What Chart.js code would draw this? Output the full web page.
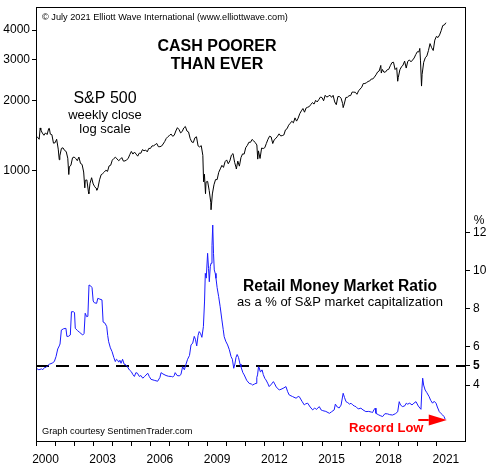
<!DOCTYPE html>
<html>
<head>
<meta charset="utf-8">
<script src="https://cdn.jsdelivr.net/npm/chart.js@4.4.1/dist/chart.umd.min.js"></script>
<style>
  html, body { margin: 0; padding: 0; background: #fff; }
  #wrap { width: 493px; height: 472px; }
</style>
</head>
<body>
<div id="wrap"><canvas id="chart" width="493" height="472"></canvas></div>
<script>
// S&P 500 month-end closes, Jan 2000 .. Jun 2021
const spStartYear = 2000;
const spMonthly = [
  1394, 1366, 1499, 1452, 1421, 1455, 1431, 1518, 1437, 1429, 1315, 1320,
  1366, 1240, 1160, 1249, 1256, 1224, 1211, 1134, 1041, 1060, 1139, 1148,
  1130, 1107, 1147, 1077, 1067, 990, 912, 916, 815, 886, 936, 880,
  856, 841, 848, 917, 964, 975, 990, 1008, 996, 1051, 1058, 1112,
  1131, 1145, 1126, 1107, 1121, 1141, 1102, 1104, 1115, 1130, 1174, 1212,
  1181, 1204, 1181, 1157, 1192, 1191, 1234, 1220, 1229, 1207, 1249, 1248,
  1280, 1281, 1295, 1311, 1270, 1270, 1277, 1304, 1336, 1378, 1401, 1418,
  1438, 1407, 1421, 1482, 1531, 1503, 1455, 1474, 1527, 1549, 1481, 1468,
  1379, 1331, 1323, 1386, 1400, 1280, 1267, 1283, 1166, 969, 896, 903,
  826, 735, 798, 873, 919, 919, 987, 1021, 1057, 1036, 1096, 1115,
  1074, 1104, 1169, 1187, 1089, 1031, 1102, 1049, 1141, 1183, 1181, 1258,
  1286, 1327, 1326, 1364, 1345, 1321, 1292, 1219, 1131, 1253, 1247, 1258,
  1312, 1366, 1408, 1398, 1310, 1362, 1379, 1407, 1441, 1412, 1416, 1426,
  1498, 1515, 1569, 1598, 1631, 1606, 1686, 1633, 1682, 1757, 1806, 1848,
  1783, 1859, 1872, 1884, 1924, 1960, 1931, 2003, 1972, 2018, 2068, 2059,
  1995, 2105, 2068, 2086, 2107, 2063, 2104, 1972, 1920, 2079, 2080, 2044,
  1940, 1932, 2060, 2065, 2097, 2099, 2174, 2171, 2168, 2126, 2199, 2239,
  2279, 2364, 2363, 2384, 2412, 2423, 2470, 2472, 2519, 2575, 2648, 2674,
  2824, 2714, 2641, 2648, 2705, 2718, 2816, 2902, 2914, 2712, 2760, 2507,
  2704, 2784, 2834, 2946, 2752, 2942, 2980, 2926, 2977, 3038, 3141, 3231,
  3226, 2954, 2585, 2912, 3044, 3100, 3271, 3500, 3363, 3270, 3622, 3756,
  3714, 3811, 3973, 4181, 4204, 4298
];

// extra weekly closes (start point and the sharp highs / lows)
const spWeekDates  = [2000.0, 2000.22, 2000.7, 2001.22, 2001.72, 2002.56, 2002.77, 2003.19,
                      2008.79, 2008.89, 2009.18, 2010.51, 2011.63, 2016.11, 2018.11, 2018.97,
                      2020.13, 2020.22];
const spWeekValues = [1400, 1527, 1520, 1117, 966, 847, 800, 828,
                      899, 800, 683, 1022, 1124, 1865, 2620, 2417,
                      3338, 2305];

// Retail money market ratio, % of S&P market cap
const ratioDates = [
  2000.00, 2000.15, 2000.30, 2000.35, 2000.45, 2000.52, 2000.62, 2000.70, 2000.85, 2000.96,
  2001.05, 2001.14, 2001.22, 2001.26, 2001.33, 2001.45, 2001.57, 2001.62, 2001.70, 2001.80,
  2001.86, 2001.96, 2002.02, 2002.06, 2002.18, 2002.30, 2002.45, 2002.52, 2002.58, 2002.66,
  2002.72, 2002.78, 2002.86, 2002.94, 2003.00, 2003.06, 2003.18, 2003.24, 2003.35, 2003.46,
  2003.52, 2003.62, 2003.71, 2003.76, 2003.81, 2003.90, 2003.99, 2004.08, 2004.16, 2004.22,
  2004.28, 2004.34, 2004.40, 2004.46, 2004.54, 2004.62, 2004.72, 2004.80, 2004.90, 2005.00,
  2005.08, 2005.16, 2005.24, 2005.32, 2005.42, 2005.50, 2005.60, 2005.70, 2005.86, 2005.94,
  2006.03, 2006.20, 2006.38, 2006.50, 2006.56, 2006.66, 2006.82, 2006.95, 2007.10, 2007.17,
  2007.25, 2007.30, 2007.40, 2007.51, 2007.60, 2007.69, 2007.78, 2007.87, 2007.95, 2008.05,
  2008.13, 2008.22, 2008.30, 2008.36, 2008.43, 2008.50, 2008.56, 2008.63, 2008.70, 2008.78,
  2008.84, 2008.88, 2008.93, 2009.00, 2009.05, 2009.09, 2009.14, 2009.18, 2009.23, 2009.27,
  2009.31, 2009.35, 2009.40, 2009.44, 2009.50, 2009.58, 2009.66, 2009.75, 2009.82, 2009.87,
  2009.95, 2010.05, 2010.14, 2010.23, 2010.30, 2010.37, 2010.43, 2010.49, 2010.55, 2010.62,
  2010.70, 2010.75, 2010.85, 2010.92, 2011.05, 2011.18, 2011.30, 2011.36, 2011.45, 2011.54,
  2011.58, 2011.62, 2011.67, 2011.71, 2011.76, 2011.80, 2011.86, 2011.92, 2012.00, 2012.06,
  2012.15, 2012.23, 2012.35, 2012.45, 2012.50, 2012.60, 2012.76, 2012.90, 2013.00, 2013.11,
  2013.20, 2013.28, 2013.45, 2013.64, 2013.75, 2013.81, 2013.95, 2014.07, 2014.15, 2014.25,
  2014.38, 2014.51, 2014.62, 2014.70, 2014.86, 2014.95, 2015.04, 2015.20, 2015.39, 2015.50,
  2015.64, 2015.70, 2015.80, 2015.90, 2016.00, 2016.11, 2016.18, 2016.26, 2016.35, 2016.45,
  2016.52, 2016.62, 2016.70, 2016.78, 2016.90, 2017.04, 2017.15, 2017.30, 2017.45, 2017.60,
  2017.65, 2017.72, 2017.79, 2017.83, 2017.95, 2018.05, 2018.18, 2018.30, 2018.44, 2018.55,
  2018.70, 2018.85, 2018.97, 2019.05, 2019.12, 2019.23, 2019.35, 2019.42, 2019.49, 2019.60,
  2019.72, 2019.82, 2019.93, 2020.05, 2020.19, 2020.24, 2020.28, 2020.33, 2020.41, 2020.50,
  2020.62, 2020.70, 2020.80, 2020.88, 2020.98, 2021.05, 2021.15, 2021.25, 2021.33, 2021.40,
  2021.46
];
const ratioValues = [
  4.88, 4.80, 4.85, 4.80, 4.92, 4.92, 5.02, 5.09, 5.15, 5.23,
  5.49, 5.89, 6.05, 6.15, 6.88, 6.95, 6.97, 6.55, 6.55, 6.62,
  7.84, 7.84, 7.80, 6.97, 6.85, 6.75, 6.62, 6.70, 7.76, 7.58,
  7.60, 9.24, 9.20, 9.10, 8.40, 8.31, 8.28, 8.54, 8.50, 8.46,
  7.30, 7.24, 7.06, 6.60, 6.27, 5.95, 5.75, 5.45, 5.23, 5.35,
  5.30, 5.20, 5.30, 5.14, 5.35, 5.10, 5.05, 4.95, 4.79, 4.70,
  4.55, 4.45, 4.65, 4.62, 4.45, 4.50, 4.36, 4.45, 4.62, 4.45,
  4.30, 4.25, 4.20, 4.40, 4.65, 4.58, 4.50, 4.46, 4.45, 4.42,
  4.50, 4.65, 4.50, 4.48, 4.55, 4.96, 4.80, 5.10, 5.35, 5.55,
  6.10, 6.20, 6.55, 6.40, 6.05, 6.60, 6.80, 6.70, 6.50, 7.06,
  8.40, 9.85, 9.60, 10.90, 10.10, 9.41, 10.20, 10.38, 11.30, 12.38,
  10.90, 10.03, 9.85, 9.59, 9.10, 8.63, 8.10, 7.41, 6.90, 6.53,
  6.30, 6.10, 5.85, 5.49, 5.35, 4.88, 5.10, 5.45, 5.60, 5.45,
  5.10, 4.96, 4.65, 4.53, 4.25, 4.09, 4.05, 4.00, 4.05, 4.09,
  4.40, 4.53, 4.96, 4.90, 4.70, 4.75, 4.79, 4.55, 4.35, 4.27,
  4.10, 3.92, 4.05, 4.18, 4.10, 3.90, 3.74, 3.80, 3.85, 3.92,
  3.65, 3.48, 3.40, 3.31, 3.40, 3.39, 3.15, 2.96, 3.02, 3.05,
  2.85, 2.70, 2.80, 2.72, 2.87, 2.70, 2.66, 2.62, 2.52, 2.60,
  2.70, 3.00, 2.85, 2.80, 2.95, 3.57, 3.35, 3.13, 3.08, 3.00,
  3.05, 2.95, 2.90, 2.87, 2.75, 2.79, 2.70, 2.61, 2.62, 2.58,
  2.56, 2.70, 2.79, 2.52, 2.45, 2.40, 2.35, 2.50, 2.49, 2.45,
  2.43, 2.50, 2.60, 3.13, 2.95, 2.87, 2.92, 3.05, 3.00, 3.05,
  2.96, 3.05, 3.13, 2.90, 2.73, 3.80, 4.36, 4.00, 3.74, 3.60,
  3.39, 3.20, 3.05, 3.15, 3.05, 2.85, 2.61, 2.50, 2.43, 2.35,
  2.21
];

const ratioRefLine = 5;
const spTicks = [1000, 2000, 3000, 4000];
const ratioTicks = [4, 5, 6, 8, 10, 12];
const yearTicks = [2000, 2001, 2002, 2003, 2004, 2005, 2006, 2007, 2008, 2009, 2010,
                   2011, 2012, 2013, 2014, 2015, 2016, 2017, 2018, 2019, 2020, 2021];
const yearLabels = [2000, 2003, 2006, 2009, 2012, 2015, 2018, 2021];

const FONT = '"Liberation Sans", Arial, Helvetica, sans-serif';
const BLUE = '#1a1aff';
const RED = '#ff0000';

// merge monthly + weekly points into one sorted series
const spData = spMonthly.map((v, i) => ({ x: spStartYear + (i + 1) / 12, y: v }))
  .concat(spWeekDates.map((d, i) => ({ x: d, y: spWeekValues[i] })))
  .sort((a, b) => a.x - b.x);
const ratioData = ratioDates.map((d, i) => ({ x: d, y: ratioValues[i] }));
const refData = [{ x: 2000, y: ratioRefLine }, { x: 2022.5, y: ratioRefLine }];

// frame, titles, notes and the red arrow
const decorPlugin = {
  id: 'decor',
  afterDraw(chart) {
    const ctx = chart.ctx;
    const ca = chart.chartArea;
    const xs = chart.scales.x, y2 = chart.scales.y2;
    ctx.save();
    ctx.strokeStyle = '#000';
    ctx.lineWidth = 1;
    ctx.strokeRect(Math.round(ca.left) + 0.5, Math.round(ca.top) + 0.5,
      Math.round(ca.right - ca.left), Math.round(ca.bottom - ca.top));

    ctx.fillStyle = '#000';
    ctx.textBaseline = 'middle';
    ctx.textAlign = 'left';
    ctx.font = '9.2px ' + FONT;
    ctx.fillText('\u00A9 July 2021 Elliott Wave International (www.elliottwave.com)', 42, 17);
    ctx.fillText('Graph courtesy SentimenTrader.com', 42, 431);

    ctx.textAlign = 'center';
    ctx.font = 'bold 16px ' + FONT;
    ctx.fillText('CASH POORER', 217, 47);
    ctx.fillText('THAN EVER', 217, 65);

    ctx.font = '16px ' + FONT;
    ctx.fillText('S&P 500', 105, 99);
    ctx.font = '13px ' + FONT;
    ctx.fillText('weekly close', 105, 115);
    ctx.fillText('log scale', 105, 129);

    ctx.font = 'bold 15.6px ' + FONT;
    ctx.fillText('Retail Money Market Ratio', 340, 287);
    ctx.font = '13px ' + FONT;
    ctx.fillText('as a % of S&P market capitalization', 340, 302);

    ctx.font = '12px ' + FONT;
    ctx.fillText('%', 479, y2.getPixelForValue(12) - 12);

    // Record Low + arrow
    ctx.fillStyle = RED;
    ctx.strokeStyle = RED;
    ctx.font = 'bold 13px ' + FONT;
    ctx.fillText('Record Low', xs.getPixelForValue(2018.37), y2.getPixelForValue(1.75));
    const ay = y2.getPixelForValue(2.17);
    const ax0 = xs.getPixelForValue(2020.05);
    const axb = xs.getPixelForValue(2020.6);
    const ax1 = xs.getPixelForValue(2021.55);
    ctx.lineWidth = 2;
    ctx.beginPath();
    ctx.moveTo(ax0, ay);
    ctx.lineTo(axb, ay);
    ctx.stroke();
    ctx.beginPath();
    ctx.moveTo(axb, ay - 5.5);
    ctx.lineTo(ax1, ay);
    ctx.lineTo(axb, ay + 5.5);
    ctx.closePath();
    ctx.fill();
    ctx.restore();
  }
};

const tickFont = { family: FONT, size: 12 };

new Chart(document.getElementById('chart'), {
  type: 'line',
  data: {
    datasets: [
      { label: 'S&P 500', data: spData, yAxisID: 'y', borderColor: '#000', borderWidth: 1,
        pointRadius: 0, tension: 0, order: 1 },
      { label: 'Retail Money Market Ratio', data: ratioData, yAxisID: 'y2', borderColor: BLUE,
        borderWidth: 1, pointRadius: 0, tension: 0, order: 2 },
      { label: '5%', data: refData, yAxisID: 'y2', borderColor: '#000', borderWidth: 2,
        borderDash: [13, 7], pointRadius: 0, order: 3 }
    ]
  },
  options: {
    responsive: false,
    animation: false,
    devicePixelRatio: 1,
    layout: { padding: { top: 7, left: 0, right: 0, bottom: 0 } },
    plugins: { legend: { display: false }, tooltip: { enabled: false } },
    scales: {
      x: {
        type: 'linear', position: 'bottom', min: 2000, max: 2022.5,
        afterBuildTicks: s => { s.ticks = yearTicks.map(v => ({ value: v })); },
        afterFit: s => { s.height = 31; s.paddingLeft = 0; s.paddingRight = 0; },
        grid: { drawOnChartArea: false, drawTicks: true, tickLength: 5, color: '#000' },
        border: { display: false },
        ticks: {
          autoSkip: false, maxRotation: 0, labelOffset: 9.5, padding: 6, color: '#000', font: tickFont,
          callback: v => yearLabels.includes(v) ? String(v) : ''
        }
      },
      y: {
        type: 'logarithmic', position: 'left', min: 70.3, max: 5016,
        afterBuildTicks: s => { s.ticks = spTicks.map(v => ({ value: v })); },
        afterFit: s => { s.width = 36; s.paddingTop = 0; s.paddingBottom = 0; },
        grid: { drawOnChartArea: false, drawTicks: true, tickLength: 4, color: '#000' },
        border: { display: false },
        ticks: { autoSkip: false, padding: 2, color: '#000', font: tickFont, callback: v => String(v) }
      },
      y2: {
        type: 'linear', position: 'right', min: 1.07, max: 23.8,
        afterBuildTicks: s => { s.ticks = ratioTicks.map(v => ({ value: v })); },
        afterFit: s => { s.width = 28; s.paddingTop = 0; s.paddingBottom = 0; },
        grid: { drawOnChartArea: false, drawTicks: true, tickLength: 5, color: '#000' },
        border: { display: false },
        ticks: {
          autoSkip: false, padding: 3, color: '#000',
          font: c => (c.tick && c.tick.value === ratioRefLine)
            ? { family: FONT, size: 12, weight: 'bold' } : tickFont,
          callback: v => String(v)
        }
      }
    }
  },
  plugins: [decorPlugin]
});
</script>
</body>
</html>
